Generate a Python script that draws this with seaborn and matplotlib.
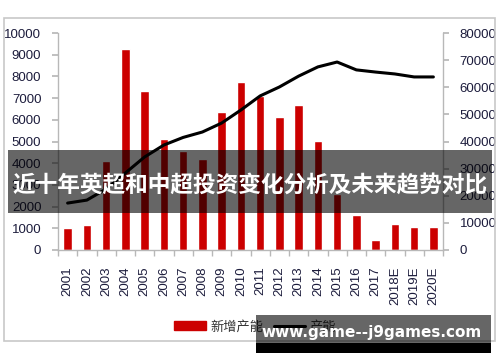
import numpy as np
import pandas as pd
import matplotlib
matplotlib.use("Agg")
import matplotlib.pyplot as plt
from matplotlib.patches import Rectangle
from matplotlib.lines import Line2D
import seaborn as sns

# ----------------- data -----------------
years = ["2001", "2002", "2003", "2004", "2005", "2006", "2007", "2008", "2009", "2010",
         "2011", "2012", "2013", "2014", "2015", "2016", "2017", "2018E", "2019E", "2020E"]
new_capacity = [1000, 1150, 4100, 9250, 7350, 5100, 4560, 4200, 6350, 7740,
                7100, 6130, 6700, 5020, 2600, 1600, 480, 1220, 1060, 1060]
total_capacity = [17300, 18400, 22500, 28400, 34300, 38700, 41500, 43500, 46800, 51600,
                  56800, 60100, 64100, 67500, 69300, 66400, 65600, 64900, 63800, 63800]

title_text = "近十年英超和中超投资变化分析及未来趋势对比"
watermark = "www.game--j9games.com"
legend_labels = ["新增产能", "产能"]

sns.set_theme(style="white")
plt.rcParams['font.family'] = ['Liberation Sans', 'Noto Sans CJK SC', 'DejaVu Sans']

df = pd.DataFrame({"year": years, "new": new_capacity, "total": total_capacity})

fig = plt.figure(figsize=(5, 3.62), dpi=100)
fig.patch.set_facecolor("white")

# chart border
fig.patches.append(Rectangle((4 / 500, 1 - 341 / 362), 491 / 500, 323 / 362,
                             transform=fig.transFigure, fill=False,
                             edgecolor="#c8c8c8", linewidth=1.2))

ax = fig.add_axes([58 / 500, 1 - 250 / 362, 385 / 500, 217 / 362])
sns.barplot(data=df, x="year", y="new", color="#cc0000", saturation=1,
            width=0.44, ax=ax)
ax.set_ylim(0, 10000)
ax.set_yticks(np.arange(0, 10001, 1000))
ax.set_xlim(-0.5, len(years) - 0.5)
ax.set_xlabel("")
ax.set_ylabel("")

ax2 = ax.twinx()
sns.lineplot(x=np.arange(len(years)), y=df["total"], color="black", linewidth=2.2, ax=ax2)
ax2.set_ylim(0, 80000)
ax2.set_yticks(np.arange(0, 80001, 10000))
ax2.set_ylabel("")

tick_color = "#1c1c3c"
for a in (ax, ax2):
    for s in a.spines.values():
        s.set_visible(False)
ax.spines["left"].set_visible(True)
ax.spines["bottom"].set_visible(True)
ax2.spines["right"].set_visible(True)
for s in (ax.spines["left"], ax.spines["bottom"], ax2.spines["right"]):
    s.set_color("#b8b8b8")
    s.set_linewidth(1)

ax.tick_params(axis="y", left=True, length=4, color="#b8b8b8", labelsize=9.5,
               labelcolor=tick_color, pad=8)
ax2.tick_params(axis="y", right=True, length=4, color="#b8b8b8", labelsize=9.5,
                labelcolor=tick_color, pad=8)
ax.tick_params(axis="x", bottom=False, labelsize=9.5, labelcolor=tick_color, pad=6)
for lbl in ax.get_xticklabels():
    lbl.set_rotation(90)
    lbl.set_va("top")
# category separator ticks on the x axis
ax.set_xticks(np.arange(-0.5, len(years), 1), minor=True)
ax.tick_params(axis="x", which="minor", bottom=True, length=4, color="#b8b8b8")

# legend
handles = [Rectangle((0, 0), 1, 1, color="#cc0000"),
           Line2D([0], [0], color="black", linewidth=2.2)]
fig.legend(handles, legend_labels, loc="center", bbox_to_anchor=(0.51, 1 - 327 / 362),
           ncol=2, frameon=False, fontsize=9.5, handlelength=2.4, columnspacing=0.8,
           handletextpad=0.3, labelcolor="#333333")

# title banner
fig.patches.append(Rectangle((8 / 500, 1 - 213 / 362), 484 / 500, 63 / 362,
                             transform=fig.transFigure, facecolor="black",
                             alpha=0.6, edgecolor="none", zorder=10))
fig.text(0.5, 1 - 185 / 362, title_text, ha="center", va="center", color="white",
         fontsize=16.3, fontweight="bold", family=["Noto Sans CJK SC", "DejaVu Sans"],
         zorder=11)

# watermark
fig.patches.append(Rectangle((256 / 500, 1 - 343 / 362), 235 / 500, 28 / 362,
                             transform=fig.transFigure, facecolor="black",
                             alpha=0.6, edgecolor="none", zorder=10))
fig.patches.append(Rectangle((256 / 500, 1 - 353 / 362), 235 / 500, 10 / 362,
                             transform=fig.transFigure, facecolor="black",
                             edgecolor="none", zorder=10))
fig.text(372 / 500, 1 - 333 / 362, watermark, ha="center", va="center", color="white",
         fontsize=11, fontweight="bold", family="DejaVu Sans", zorder=11)

fig.savefig("out.png", dpi=100)
